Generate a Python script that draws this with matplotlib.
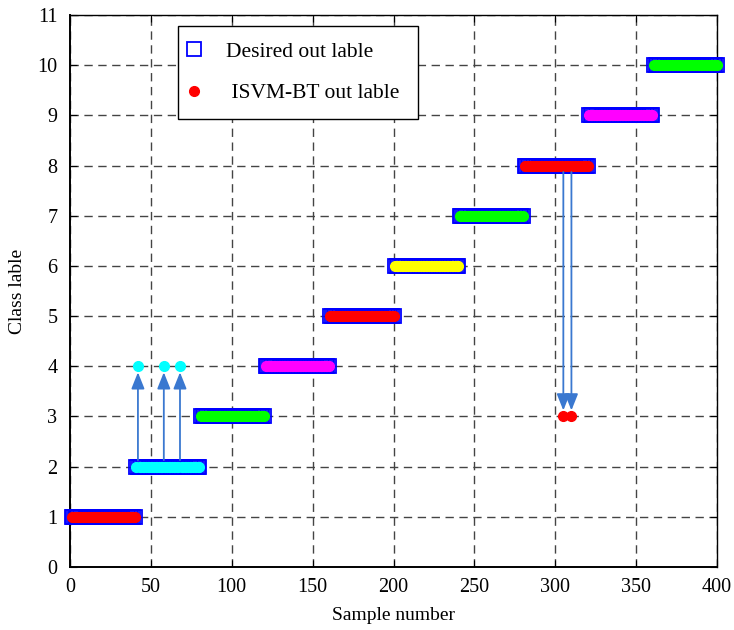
import numpy as np
import matplotlib
matplotlib.use("Agg")
import matplotlib.pyplot as plt

# Class segments: each class occupies a consecutive run of samples
class_ids = [1, 2, 3, 4, 5, 6, 7, 8, 9, 10]
seg_start = [1, 41, 81, 121, 161, 201, 241, 281, 321, 361]
seg_end = [40, 80, 120, 160, 200, 240, 280, 320, 360, 400]
class_colors = ["#ff0000", "#00ffff", "#00ff00", "#ff00ff", "#ff0000",
                "#ffff00", "#00ff00", "#ff0000", "#ff00ff", "#00ff00"]

# Misclassified samples and the label the classifier returned
wrong_samples = [42, 58, 68, 305, 310]
wrong_labels = [4, 4, 4, 3, 3]

samples = np.arange(1, seg_end[-1] + 1)
desired = np.concatenate([np.full(e - s + 1, c) for s, e, c in zip(seg_start, seg_end, class_ids)])
predicted = desired.astype(float).copy()
for s, lab in zip(wrong_samples, wrong_labels):
    predicted[s - 1] = lab

plt.rcParams["font.family"] = ["Liberation Serif", "DejaVu Serif"]
plt.rcParams["mathtext.fontset"] = "stix"

fig = plt.figure(figsize=(7.34, 6.30), dpi=100)
ax = fig.add_axes([70 / 734, 1 - 567 / 630, 647 / 734, 552 / 630])

# Desired labels: open blue squares
ax.plot(samples, desired, linestyle="none", marker="s", markersize=10.5,
        markerfacecolor="none", markeredgecolor="#0000ff", markeredgewidth=1.3,
        zorder=3, clip_on=False, label="Desired out lable")

# Predicted labels coloured by true class
for s, e, col in zip(seg_start, seg_end, class_colors):
    idx = np.arange(s, e + 1)
    ax.plot(idx, predicted[idx - 1], linestyle="none", marker="o", markersize=7,
            markerfacecolor=col, markeredgecolor=col, zorder=4, clip_on=False)

# Legend proxy for predicted points
ax.plot([], [], linestyle="none", marker="o", markersize=7, color="#ff0000",
        label=" ISVM-BT out lable")

# Arrows from true class to wrong predicted class
arrow_col = "#3a78d0"
for s, lab in zip(wrong_samples, wrong_labels):
    true_c = desired[s - 1]
    if lab > true_c:
        y0, y1 = true_c + 0.13, lab - 0.12
    else:
        y0, y1 = true_c - 0.13, lab + 0.12
    ax.annotate("", xy=(s, y1), xytext=(s, y0),
                arrowprops=dict(arrowstyle="-|>,head_length=0.5,head_width=0.2",
                                mutation_scale=20, color=arrow_col, lw=1.3,
                                shrinkA=0, shrinkB=0), zorder=5)

ax.set_xlim(0, 400)
ax.set_ylim(0, 11)
ax.set_xticks(np.arange(0, 401, 50))
ax.set_yticks(np.arange(0, 12, 1))
ax.tick_params(direction="in", top=True, right=True, length=5, labelsize=14.5,
               width=0.8)
ax.tick_params(axis="y", pad=9)
ax.tick_params(axis="x", pad=8)
ax.grid(True, color="#444444", linestyle=(0, (6, 4)), linewidth=1.0, zorder=0)
ax.set_axisbelow(True)
for side in ["left", "bottom"]:
    ax.spines[side].set_linewidth(1.4)
for side in ["top", "right"]:
    ax.spines[side].set_linewidth(1.0)

ax.set_xlabel("Sample number", fontsize=14, labelpad=7)
ax.set_ylabel("Class lable", fontsize=14, labelpad=8)

leg = ax.legend(loc="upper left", bbox_to_anchor=(108 / 647, 0.5, 240 / 647, 0.48),
                mode="expand", fontsize=15.5,
                frameon=True, fancybox=False, edgecolor="black", framealpha=1,
                handletextpad=1.52, labelspacing=1.0, borderpad=0.72,
                handlelength=0.0, handleheight=0.7, borderaxespad=0)
leg.get_frame().set_linewidth(1.0)

fig.savefig("out.png", dpi=100)
